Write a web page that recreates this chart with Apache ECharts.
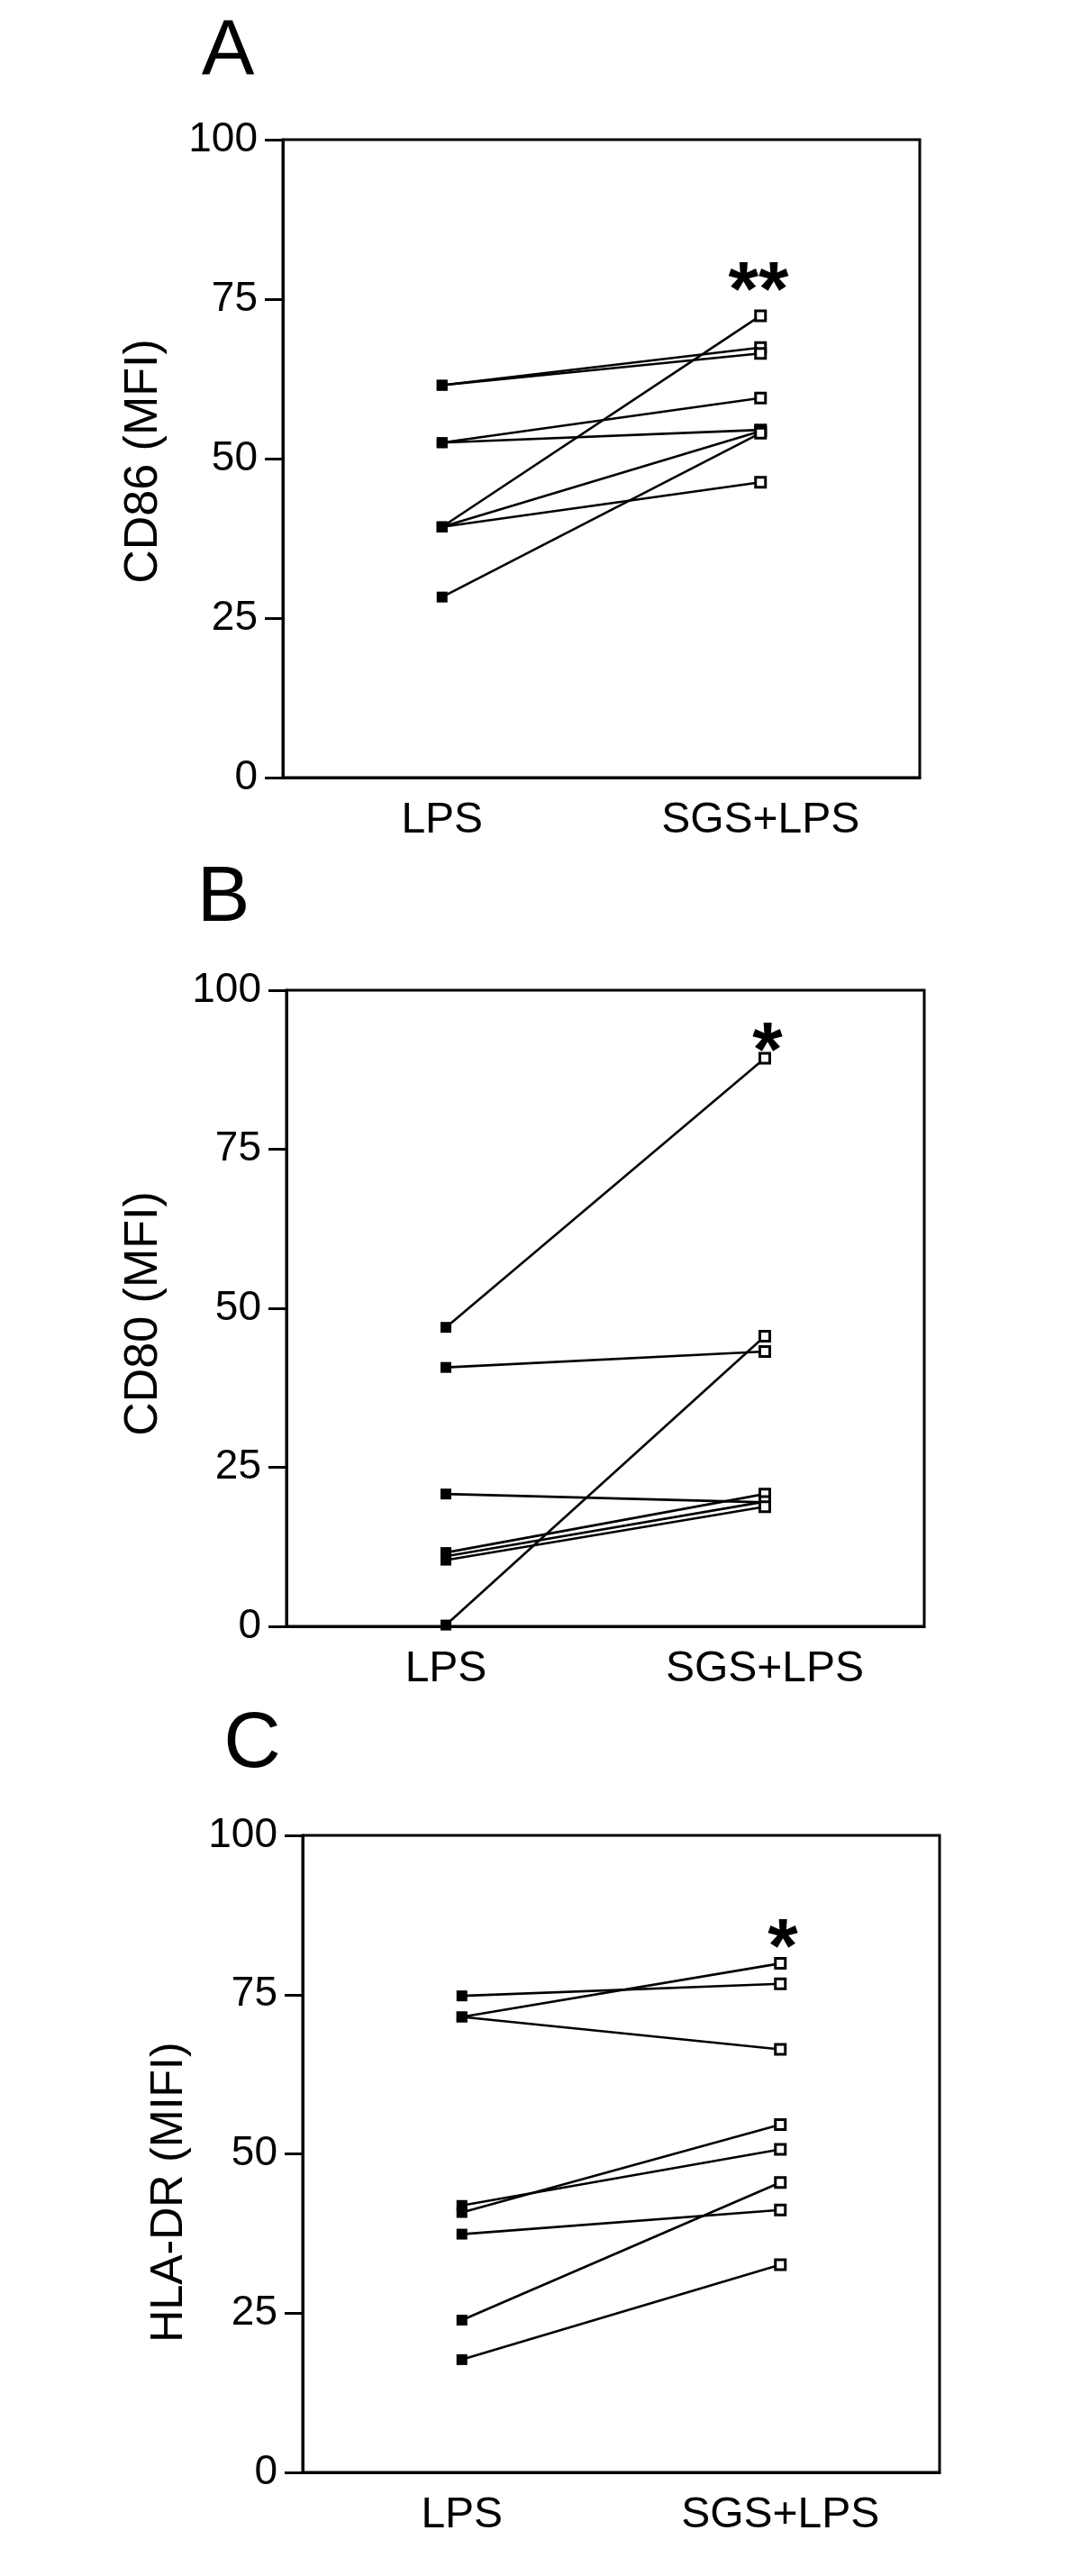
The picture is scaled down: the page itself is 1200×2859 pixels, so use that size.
<!DOCTYPE html>
<html>
<head>
<meta charset="utf-8">
<script src="https://cdn.jsdelivr.net/npm/echarts@6/dist/echarts.min.js"></script>
<style>
  html, body { margin: 0; padding: 0; background: #fff; }
  #chart { width: 1200px; height: 2859px; }
</style>
</head>
<body>
<div id="chart"></div>
<script>
// categories and values
const categories = ['LPS', 'SGS+LPS'];
const yMin = 0, yMax = 100, yStep = 25;

const cd86Lps = [61.5, 61.5, 52.5, 52.5, 39.3, 39.3, 39.3, 28.3];
const cd86Sgs = [67.4, 66.5, 59.5, 54.5, 72.4, 54.3, 46.3, 54.0];

const cd80Lps = [47.0, 40.7, 20.8, 11.6, 11.0, 10.4, 0.2];
const cd80Sgs = [89.3, 43.2, 19.5, 20.8, 19.6, 18.8, 45.6];

const hlaLps = [74.8, 71.5, 71.5, 41.9, 40.8, 37.4, 23.9, 17.7];
const hlaSgs = [76.7, 79.9, 66.4, 50.7, 54.6, 41.2, 45.5, 32.6];

const panelLetters = ['A', 'B', 'C'];
const yTitles = ['CD86 (MFI)', 'CD80 (MFI)', 'HLA-DR (MIFI)'];
const stars = ['**', '*', '*'];

const FONT = '"Liberation Sans", Arial, sans-serif';

// panel layout (px)
const grids = [
    {left: 314, top: 155, width: 707, height: 708},
    {left: 318, top: 1099, width: 708, height: 706},
    {left: 336, top: 2037, width: 707, height: 707}
];
const letterPos = [[253, 59], [248, 998], [280, 1937]];
const titlePos = [[160, 512, 52], [160, 1458, 52], [188, 2433, 50]];
const starPos = [[842, 326], [852, 1170], [869, 2165]];

const panels = [[cd86Lps, cd86Sgs], [cd80Lps, cd80Sgs], [hlaLps, hlaSgs]];

var myChart = echarts.init(document.getElementById('chart'), null, {renderer: 'canvas'});

let series = [];
panels.forEach(function (p, i) {
    const lps = p[0], sgs = p[1];
    for (let k = 0; k < lps.length; k++) {
        series.push({
            type: 'line',
            xAxisIndex: i,
            yAxisIndex: i,
            silent: true,
            lineStyle: {color: '#000', width: 2.6},
            data: [
                {value: lps[k], symbol: 'rect', symbolSize: 12, itemStyle: {color: '#000'}},
                {value: sgs[k], symbol: 'rect', symbolSize: 11,
                    itemStyle: {color: '#fff', borderColor: '#000', borderWidth: 3}}
            ]
        });
    }
});

let graphics = [];
for (let i = 0; i < 3; i++) {
    graphics.push({
        type: 'text', x: letterPos[i][0], y: letterPos[i][1],
        style: {text: panelLetters[i], font: '88px ' + FONT, fill: '#000', align: 'center', verticalAlign: 'middle'}
    });
    graphics.push({
        type: 'text', x: titlePos[i][0], y: titlePos[i][1], rotation: Math.PI / 2,
        style: {text: yTitles[i], font: titlePos[i][2] + 'px ' + FONT, fill: '#000', align: 'center', verticalAlign: 'middle'}
    });
    graphics.push({
        type: 'text', x: starPos[i][0], y: starPos[i][1],
        style: {text: stars[i], font: 'bold 86px ' + FONT, fill: '#000', align: 'center', verticalAlign: 'middle'}
    });
}

var option = {
    animation: false,
    backgroundColor: '#fff',
    grid: grids.map(function (g) {
        return Object.assign({show: true, borderColor: '#000', borderWidth: 3, backgroundColor: 'transparent'}, g);
    }),
    xAxis: grids.map(function (g, i) {
        return {
            type: 'category',
            gridIndex: i,
            data: categories,
            boundaryGap: true,
            axisLine: {lineStyle: {color: '#000', width: 3}},
            axisTick: {alignWithLabel: true, length: 20, lineStyle: {color: '#000', width: 3}},
            axisLabel: {fontSize: 48, color: '#000', fontFamily: FONT, margin: 24}
        };
    }),
    yAxis: grids.map(function (g, i) {
        return {
            type: 'value',
            gridIndex: i,
            min: yMin,
            max: yMax,
            interval: yStep,
            splitLine: {show: false},
            axisLine: {show: true, lineStyle: {color: '#000', width: 3}},
            axisTick: {show: true, length: 20, lineStyle: {color: '#000', width: 3}},
            axisLabel: {fontSize: 46, color: '#000', fontFamily: FONT, margin: 28}
        };
    }),
    series: series,
    graphic: graphics
};
myChart.setOption(option);
</script>
</body>
</html>
